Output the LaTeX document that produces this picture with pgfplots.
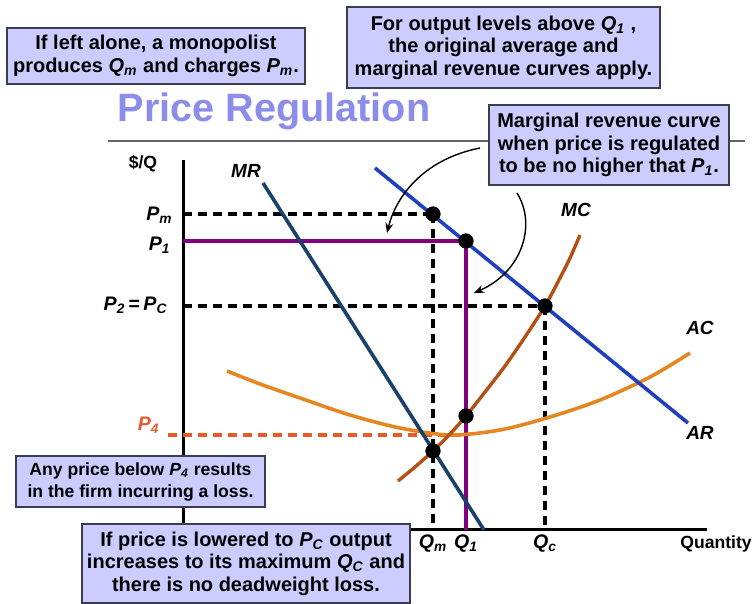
\documentclass[border=0pt]{standalone}
\usepackage{fontspec}
\setmainfont{Liberation Sans}
\usepackage{pgfplots}
\pgfplotsset{compat=1.18}
\usetikzlibrary{arrows.meta}
\definecolor{ARc}{RGB}{31,64,190}
\definecolor{MRc}{RGB}{25,65,105}
\definecolor{MCc}{RGB}{180,80,20}
\definecolor{ACc}{RGB}{228,135,35}
\definecolor{P4c}{RGB}{230,90,40}
\definecolor{Purp}{RGB}{128,0,128}
\definecolor{boxfill}{RGB}{204,204,255}
\definecolor{boxborder}{RGB}{60,60,80}
\definecolor{titlec}{RGB}{140,140,235}
\newcommand{\sub}[2]{\textit{#1}\textsubscript{\textit{#2}}}
\begin{document}
\begin{tikzpicture}
\begin{axis}[
  scale only axis, width=376pt, height=302pt,
  xmin=0, xmax=752, ymin=0, ymax=604, y dir=reverse,
  hide axis, clip=false]
\coordinate (BL) at (axis cs:0,604);
\coordinate (TR) at (axis cs:752,0);
% horizontal rule under title
\addplot[draw={rgb,255:red,100;green,100;blue,100}, line width=0.8pt] coordinates {(108,141) (745,141)};
% title
\node[anchor=base, text=titlec, font=\bfseries\fontsize{19.8}{22}\selectfont] at (axis cs:274,122) {Price Regulation};
% axes
\addplot[black, line width=1.5pt] coordinates {(183,160) (183,530) (707,530)};
% dashed guide lines
\addplot[black, line width=1.8pt, dash pattern=on 4.5pt off 3pt] coordinates {(183,214) (433,214)};
\addplot[black, line width=1.8pt, dash pattern=on 4.5pt off 3pt] coordinates {(183,306) (545,306)};
\addplot[black, line width=2pt, dash pattern=on 4.5pt off 3pt] coordinates {(433,214) (433,530)};
\addplot[black, line width=1.8pt, dash pattern=on 4.5pt off 3pt] coordinates {(545,306) (545,530)};
\addplot[P4c, line width=1.6pt, dash pattern=on 4.5pt off 3pt] coordinates {(168,435) (460,435)};
% purple regulated lines
\addplot[Purp, line width=1.8pt] coordinates {(183,241) (466,241) (466,530)};
% AC
\addplot[ACc, line width=1.8pt, smooth] coordinates {(227,371) (260,384) (300,398) (350,415) (400,428) (450,435) (500,430) (550,417) (600,400) (650,377) (690,353)};
% MR
\addplot[MRc, line width=1.8pt] coordinates {(263,183) (484,530)};
% AR
\addplot[ARc, line width=1.8pt] coordinates {(375,168) (688,423)};
% MC
\addplot[MCc, line width=1.7pt, smooth] coordinates {(398,481) (415,467) (433,451) (450,434) (466,416) (485,392) (505,366) (525,337) (545,306) (560,278) (570,258) (580,235)};
% dots
\addplot[only marks, mark=*, mark size=3.6pt, black] coordinates {(433,214) (466,241) (545,306) (466,416) (433,451)};
% curve labels
\begin{scope}[font=\bfseries\itshape\fontsize{9.5}{11}\selectfont]
\node[anchor=base] at (axis cs:246,178) {MR};
\node[anchor=base] at (axis cs:576,217) {MC};
\node[anchor=base] at (axis cs:700,335) {AC};
\node[anchor=base] at (axis cs:700,440) {AR};
\end{scope}
% axis labels
\begin{scope}[font=\bfseries\fontsize{8.8}{10}\selectfont]
\node[anchor=base] at (axis cs:143,169) {\$/Q};
\node[anchor=base] at (axis cs:716,549) {Quantity};
\end{scope}
\begin{scope}[font=\bfseries\fontsize{9.8}{11}\selectfont, inner sep=0pt]
\node[anchor=base east] at (axis cs:173,221) {\sub{P}{m}};
\node[anchor=base east] at (axis cs:171,251) {\sub{P}{1}};
\node[anchor=base east] at (axis cs:168,311) {\sub{P}{2}\,=\,\sub{P}{C}};
\node[anchor=base east, text=P4c] at (axis cs:160,431) {\sub{P}{4}};
\node[anchor=base] at (axis cs:433,549) {\sub{Q}{m}};
\node[anchor=base] at (axis cs:466,549) {\sub{Q}{1}};
\node[anchor=base] at (axis cs:545,549) {\sub{Q}{c}};
\end{scope}
% boxes
\tikzset{bx/.style={draw=boxborder, fill=boxfill, line width=0.6pt, inner sep=0pt, align=center, font=\bfseries\fontsize{10}{11.3}\selectfont}}
\node[bx, minimum width=149pt, minimum height=28pt] at (axis cs:156,56) {If left alone, a monopolist\\produces \sub{Q}{m} and charges \sub{P}{m}.};
\node[bx, minimum width=156.5pt, minimum height=40.5pt] at (axis cs:503.5,47.5) {For output levels above \sub{Q}{1} ,\\the original average and\\marginal revenue curves apply.};
\node[bx, minimum width=120pt, minimum height=40pt] at (axis cs:609,145) {Marginal revenue curve\\when price is regulated\\to be no higher that \sub{P}{1}.};
\node[bx, minimum width=124.5pt, minimum height=25.5pt, font=\bfseries\fontsize{8.8}{11}\selectfont] at (axis cs:140.5,481.5) {Any price below \sub{P}{4} results\\in the firm incurring a loss.};
\node[bx, minimum width=164pt, minimum height=39.5pt] at (axis cs:246,563.5) {If price is lowered to \sub{P}{C} output\\increases to its maximum \sub{Q}{C} and\\there is no deadweight loss.};
% arrows
\draw[black, line width=0.7pt, -{Stealth[length=5pt,width=4pt]}] (axis cs:480,148) .. controls (axis cs:420,160) and (axis cs:395,200) .. (axis cs:387,233);
\draw[black, line width=0.7pt, -{Stealth[length=5pt,width=4pt]}] (axis cs:517,193) .. controls (axis cs:537,225) and (axis cs:522,272) .. (axis cs:474,293);
\end{axis}
\pgfresetboundingbox
\path (BL) rectangle (TR);
\end{tikzpicture}
\end{document}
